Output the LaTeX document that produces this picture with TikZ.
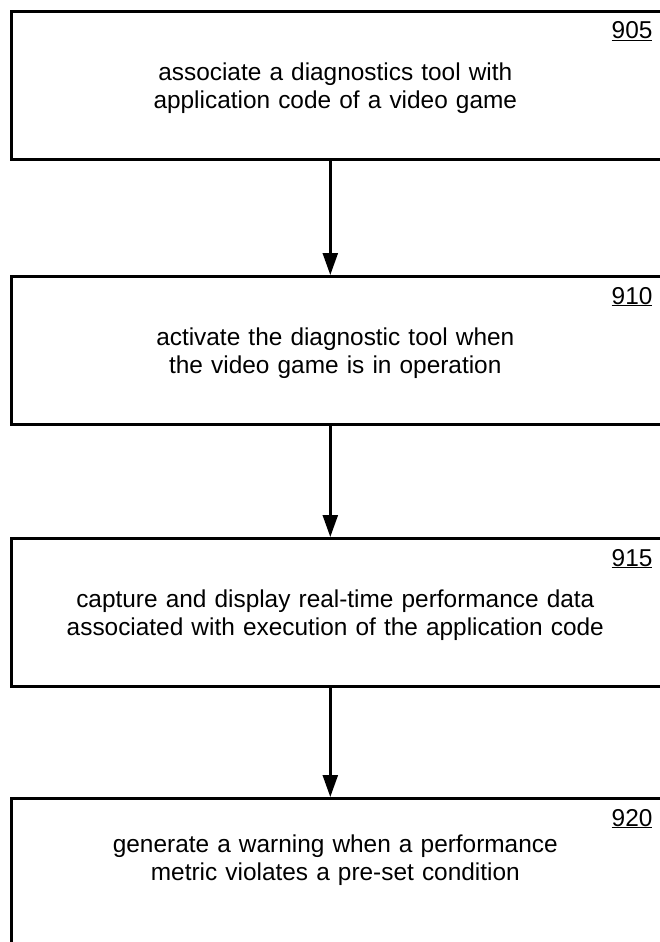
\documentclass[tikz,border=0pt]{standalone}
\usepackage{fontspec}
\setmainfont{Liberation Sans}
\usetikzlibrary{arrows.meta,positioning}

\tikzset{
  stepbox/.style={draw, rectangle, line width=2.6pt, minimum width=658pt, minimum height=148pt, anchor=north west, inner sep=0pt},
  steptext/.style={text width=600pt, align=center, inner sep=0pt, font=\fontsize{24.4}{28.5}\selectfont},
  refnum/.style={anchor=base east, inner sep=0pt, font=\fontsize{24.4}{28.5}\selectfont},
  flow/.style={-{Triangle[length=22pt,width=15pt]}, line width=2.4pt}
}

\begin{document}
\begin{tikzpicture}[x=1pt,y=1pt]
    \clip (0,0) rectangle (660,-942);

    % process boxes
    \node[stepbox] (b905) at (10,-10) {};
    \node[stepbox] (b910) at (10,-275) {};
    \node[stepbox] (b915) at (10,-537) {};
    \node[stepbox, minimum height=200pt] (b920) at (10,-797) {};

    % step texts
    \node[steptext] (t905) at ([xshift=-5pt,yshift=-78pt]b905.north) {associate a diagnostics tool with\\application code of a video game};
    \node[steptext] (t910) at ([xshift=-5pt,yshift=-78pt]b910.north) {activate the diagnostic tool when\\the video game is in operation};
    \node[steptext] (t915) at ([xshift=-5pt,yshift=-78pt]b915.north) {capture and display real-time performance data\\associated with execution of the application code};
    \node[steptext] (t920) at ([xshift=-5pt,yshift=-63pt]b920.north) {generate a warning when a performance\\metric violates a pre-set condition};

    % reference numbers
    \node[refnum] (n905) at ([xshift=-18pt,yshift=-29pt]b905.north east) {\underline{905}};
    \node[refnum] (n910) at ([xshift=-18pt,yshift=-29pt]b910.north east) {\underline{910}};
    \node[refnum] (n915) at ([xshift=-18pt,yshift=-29pt]b915.north east) {\underline{915}};
    \node[refnum] (n920) at ([xshift=-18pt,yshift=-29pt]b920.north east) {\underline{920}};

    \draw[flow] ([xshift=-10pt]b905.south) -- ([xshift=-10pt]b910.north);
    \draw[flow] ([xshift=-10pt]b910.south) -- ([xshift=-10pt]b915.north);
    \draw[flow] ([xshift=-10pt]b915.south) -- ([xshift=-10pt]b920.north);
\end{tikzpicture}
\end{document}
